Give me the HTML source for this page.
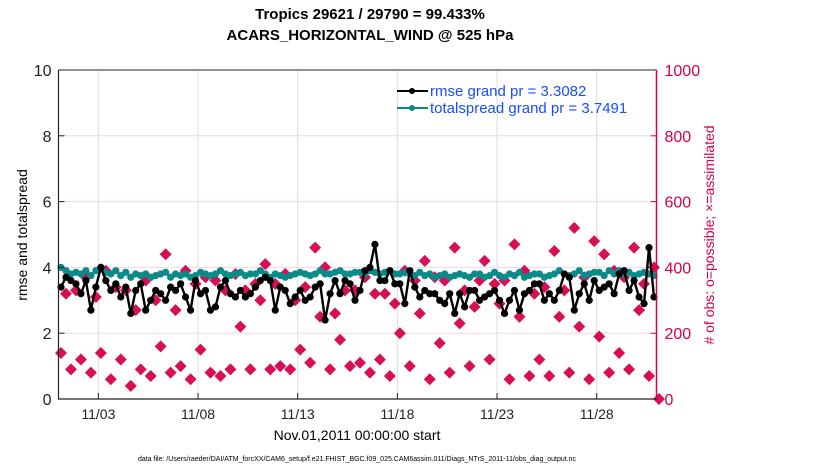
<!DOCTYPE html>
<html><head><meta charset="utf-8"><style>
body{margin:0;background:#fff;width:830px;height:470px;overflow:hidden;font-family:"Liberation Sans",sans-serif}
</style></head><body>
<svg id="chart" width="830" height="470" xmlns="http://www.w3.org/2000/svg" font-family="Liberation Sans, sans-serif">
<text x="370" y="19" font-size="15" font-weight="bold" text-anchor="middle">Tropics 29621 / 29790 = 99.433%</text>
<text x="370" y="40" font-size="15" font-weight="bold" text-anchor="middle">ACARS_HORIZONTAL_WIND @ 525 hPa</text>
<g id="grid"></g><g id="obs"></g><g id="series"></g><g id="axes"></g>
<text transform="translate(27,235) rotate(-90)" font-size="14" text-anchor="middle">rmse and totalspread</text>
<text transform="translate(714,235) rotate(-90)" font-size="14" fill="#d4004f" text-anchor="middle"># of obs: o=possible; ×=assimilated</text>
<text x="357" y="440" font-size="14" text-anchor="middle">Nov.01,2011 00:00:00 start</text>
<text x="357" y="461" font-size="7" text-anchor="middle">data file: /Users/raeder/DAI/ATM_forcXX/CAM6_setup/f.e21.FHIST_BGC.f09_025.CAM6assim.011/Diags_NTrS_2011-11/obs_diag_output.nc</text>
<g>
<line x1="397" y1="91" x2="428" y2="91" stroke="#000" stroke-width="2"/><circle cx="412" cy="91" r="3" fill="#000"/>
<text x="430" y="96" font-size="15" fill="#1a4cff">rmse grand pr = 3.3082</text>
<line x1="397" y1="108" x2="428" y2="108" stroke="#0a8a88" stroke-width="2"/><circle cx="412" cy="108" r="3" fill="#0a8a88"/>
<text x="430" y="113" font-size="15" fill="#1a4cff">totalspread grand pr = 3.7491</text>
</g>
</svg>
<script>
const rmse=[3.4,3.7,3.6,3.5, 3.2,3.6,2.7,3.4, 4.0,3.6,3.3,3.5, 3.1,3.4,2.6,3.3, 3.5,2.7,3.0,3.3, 3.2,3.0,3.4,3.3, 3.5,3.1,2.7,3.6, 3.2,3.3,2.7,2.8, 3.4,3.6,3.2,3.1, 3.3,3.1,3.2,3.4, 3.6,3.7,3.6,2.7, 3.4,3.3,2.9,3.1, 3.3,3.0,3.1,3.4, 3.5,2.4,3.2,3.6, 3.2,3.6,3.5,3.0, 3.3,3.9,4.0,4.7, 3.6,3.6,3.9,3.5, 3.5,2.9,3.9,3.4, 3.1,3.3,3.2,3.2, 3.0,2.9,3.2,2.6, 3.2,2.8,3.3,3.3, 3.0,3.1,3.2,3.3, 3.0,2.6,3.0,3.3, 2.7,3.2,3.3,3.5, 3.5,3.0,3.2,3.0, 3.3,3.8,3.7,2.7, 3.2,3.5,3.0,3.6, 3.3,3.4,3.5,3.2, 3.8,3.9,3.3,3.6, 3.1,2.9,4.6,3.1];
const spread=[4.0,3.9,3.8,3.85, 3.8,3.9,3.75,3.9, 4.0,3.85,3.8,3.9, 3.75,3.85,3.7,3.8, 3.75,3.8,3.7,3.75, 3.8,3.85,3.7,3.8, 3.75,3.8,3.7,3.75, 3.85,3.8,3.75,3.8, 3.9,3.8,3.75,3.8, 3.85,3.75,3.8,3.8, 3.9,3.8,3.7,3.8, 3.75,3.7,3.75,3.8, 3.85,3.8,3.75,3.8, 3.9,3.8,3.8,3.85, 3.9,3.8,3.8,3.85, 3.85,3.8,3.9,3.85, 3.8,3.85,3.9,3.8, 3.8,3.85,3.8,3.75, 3.85,3.75,3.8,3.7, 3.75,3.8,3.7,3.75, 3.8,3.75,3.7,3.8, 3.8,3.7,3.75,3.85, 3.75,3.7,3.8,3.75, 3.85,3.7,3.75,3.8, 3.8,3.7,3.75,3.8, 3.9,3.8,3.75,3.8, 3.9,3.75,3.8,3.85, 3.85,3.75,3.9,3.8, 3.9,3.8,3.85,3.75, 3.8,3.85,3.8,3.75];
const obs=[140,320,90,330, 120,370,80,310, 140,390,60,340, 120,330,40,270, 90,360,70,300, 160,440,80,270, 100,390,60,350, 150,370,80,360, 70,330,90,380, 220,330,90,350, 300,410,90,350, 100,380,90,300, 150,340,110,460, 250,400,90,260, 180,330,100,330, 110,370,80,320, 120,320,70,290, 200,390,100,360, 260,420,60,370, 170,360,80,460, 230,330,100,280, 360,420,120,350, 290,360,60,470, 250,390,70,320, 120,340,70,450, 250,330,80,520, 220,370,60,480, 190,440,80,390, 140,370,90,460, 270,350,70,400, 0];
const yTicks=[0,2,4,6,8,10];
const rTicks=[0,200,400,600,800,1000];
const xTickDays=[2,7,12,17,22,27];
const xTickLabels=["11/03","11/08","11/13","11/18","11/23","11/28"];
const L=58.5,R=656.5,T=70,B=399,DAY=(R-L)/30;
const xs=i=>L+(i*0.25+0.125)*DAY;
const yL=v=>B-(v/10)*(B-T);
const yR=v=>B-(v/1000)*(B-T);
const NS="http://www.w3.org/2000/svg";
function mk(tag,attrs,parent){const e=document.createElementNS(NS,tag);for(const k in attrs)e.setAttribute(k,attrs[k]);parent.appendChild(e);return e;}
const grid=document.getElementById('grid'),axes=document.getElementById('axes'),series=document.getElementById('series'),obsG=document.getElementById('obs');
xTickDays.forEach((d,i)=>{const x=L+d*DAY;
 const g=mk('line',{x1:x,x2:x,y1:T,y2:B,stroke:'#ddd','stroke-width':1},grid);
 
 
 mk('line',{x1:x,x2:x,y1:B,y2:B-6,stroke:'#222'},axes);
 const t=mk('text',{x:x,y:B+20,'font-size':14,'text-anchor':'middle',fill:'#222'},axes);t.textContent=xTickLabels[i];
 
 
});
yTicks.forEach(v=>{const y=yL(v);
 if(v>0&&v<10){const g=mk('line',{x1:L,x2:R,y1:y,y2:y,stroke:'#f0d8e0','stroke-width':1},grid);
 
 }
 mk('line',{x1:L,x2:L+6,y1:y,y2:y,stroke:'#222'},axes);
 const t=mk('text',{x:L-7,y:y+6,'font-size':16,'text-anchor':'end',fill:'#222'},axes);t.textContent=v;
 
 
});
rTicks.forEach(v=>{const y=yR(v);
 mk('line',{x1:R,x2:R-6,y1:y,y2:y,stroke:'#d4004f'},axes);
 const t=mk('text',{x:R+8,y:y+6,'font-size':16,fill:'#d4004f'},axes);t.textContent=v;
 
 
});
mk('path',{d:`M${L},${T}V${B}H${R}`,fill:'none',stroke:'#222','stroke-width':1.2},axes);
mk('line',{x1:L,x2:R,y1:T,y2:T,stroke:'#222','stroke-width':1},axes);
mk('line',{x1:R,x2:R,y1:T,y2:B,stroke:'#d4004f','stroke-width':1.5},axes);
obs.forEach((v,i)=>{const x=xs(i),y=yR(v);
 const p=mk('path',{d:`M${x},${y-6}L${x+6},${y}L${x},${y+6}L${x-6},${y}Z`,fill:'#d80f55'},obsG);
 
 
});
function line(arr,col,name){
 const p=mk('polyline',{points:arr.map((v,i)=>xs(i)+','+yL(v)).join(' '),fill:'none',stroke:col,'stroke-width':2.4},series);
 
 
 arr.forEach((v,i)=>{const c=mk('circle',{cx:xs(i),cy:yL(v),r:3.6,fill:col},series);
 
 });
}
line(spread,'#0a8a88','totalspread');
line(rmse,'#000','rmse');
</script>
</body></html>
